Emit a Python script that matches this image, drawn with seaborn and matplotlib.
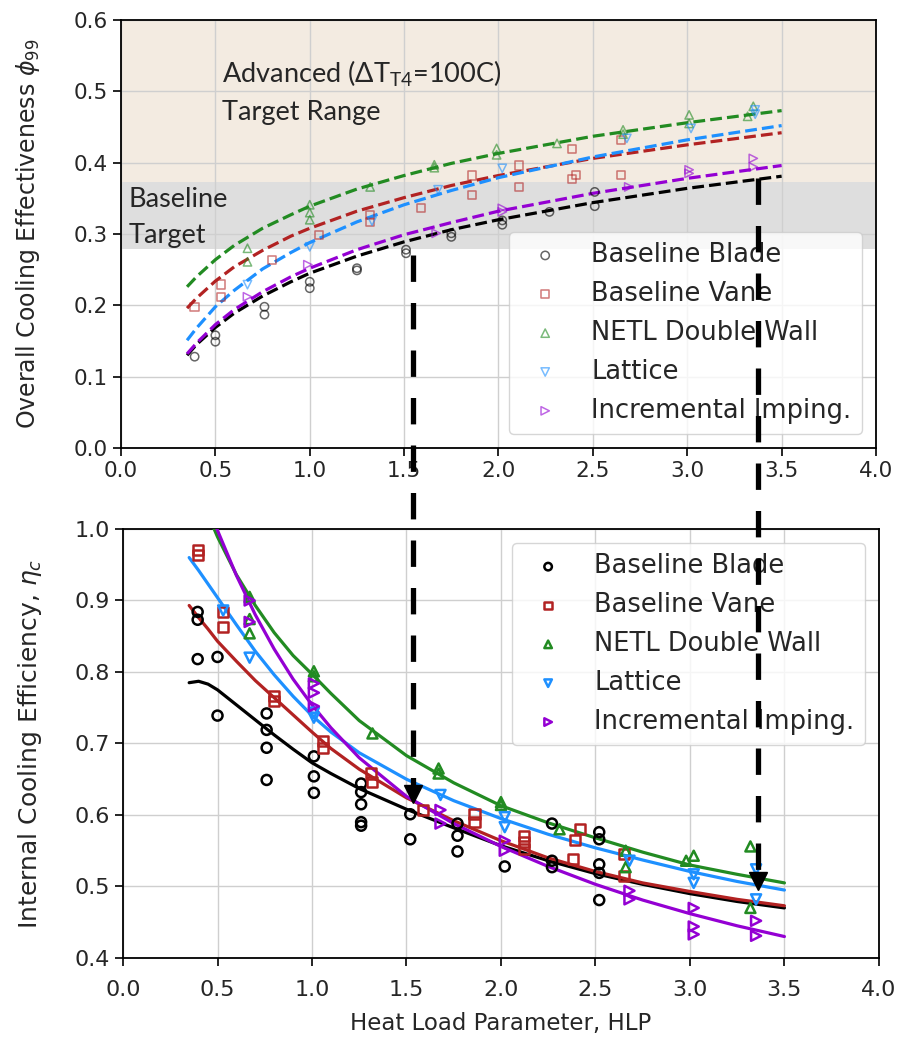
import numpy as np
import pandas as pd
import matplotlib
matplotlib.use("Agg")
import matplotlib.pyplot as plt
import seaborn as sns
from matplotlib.lines import Line2D

# ---------------- data ----------------
names = ["Baseline Blade", "Baseline Vane", "NETL Double Wall", "Lattice", "Incremental Imping."]
colors = ["#000000", "#b22222", "#228b22", "#1e90ff", "#9400d3"]
markers = ["o", "s", "^", "v", ">"]

# top panel: overall cooling effectiveness phi_99 (scatter)
phi_blade_x = [0.39, 0.50, 0.50, 0.76, 0.76, 1.00, 1.00, 1.25, 1.25, 1.51, 1.51, 1.75, 1.75, 2.02, 2.02, 2.27, 2.51, 2.51]
phi_blade_y = [0.128, 0.158, 0.149, 0.198, 0.187, 0.233, 0.224, 0.252, 0.249, 0.278, 0.273, 0.301, 0.296, 0.319, 0.313, 0.331, 0.359, 0.339]
phi_vane_x = [0.39, 0.53, 0.53, 0.80, 1.05, 1.32, 1.32, 1.59, 1.86, 1.86, 2.11, 2.11, 2.39, 2.39, 2.41, 2.65, 2.65]
phi_vane_y = [0.198, 0.229, 0.212, 0.264, 0.299, 0.327, 0.317, 0.336, 0.382, 0.355, 0.396, 0.366, 0.419, 0.377, 0.383, 0.432, 0.383]
phi_netl_x = [0.67, 0.67, 1.00, 1.00, 1.00, 1.32, 1.66, 1.66, 1.99, 1.99, 2.31, 2.66, 2.66, 3.01, 3.01, 3.35, 3.32]
phi_netl_y = [0.280, 0.261, 0.341, 0.330, 0.320, 0.366, 0.397, 0.393, 0.420, 0.411, 0.427, 0.446, 0.440, 0.467, 0.455, 0.479, 0.465]
phi_latt_x = [0.67, 1.00, 1.33, 1.68, 2.02, 2.68, 3.02, 3.36, 3.36]
phi_latt_y = [0.229, 0.282, 0.318, 0.362, 0.392, 0.434, 0.448, 0.474, 0.468]
phi_imp_x = [0.67, 0.99, 1.67, 2.02, 2.02, 2.69, 3.01, 3.01, 3.35, 3.35]
phi_imp_y = [0.212, 0.257, 0.301, 0.331, 0.336, 0.366, 0.390, 0.385, 0.406, 0.394]

# top panel: fitted trends (dashed)
phi_fit_x = [0.35, 0.40, 0.50, 0.60, 0.75, 0.90, 1.00, 1.25, 1.50, 1.75, 2.00, 2.50, 3.00, 3.50]
phi_fit_blade = [0.130, 0.145, 0.169, 0.189, 0.213, 0.233, 0.245, 0.269, 0.289, 0.306, 0.320, 0.344, 0.364, 0.381]
phi_fit_vane = [0.196, 0.210, 0.234, 0.254, 0.277, 0.297, 0.308, 0.332, 0.351, 0.368, 0.382, 0.406, 0.425, 0.442]
phi_fit_netl = [0.226, 0.240, 0.264, 0.284, 0.308, 0.327, 0.339, 0.363, 0.382, 0.399, 0.413, 0.437, 0.456, 0.473]
phi_fit_latt = [0.151, 0.168, 0.198, 0.221, 0.251, 0.274, 0.288, 0.317, 0.341, 0.361, 0.379, 0.408, 0.432, 0.452]
phi_fit_imp = [0.132, 0.147, 0.173, 0.194, 0.219, 0.240, 0.252, 0.278, 0.299, 0.316, 0.332, 0.357, 0.378, 0.396]

# bottom panel: internal cooling efficiency eta_c (scatter)
eta_blade_x = [0.395, 0.395, 0.395, 0.50, 0.50, 0.76, 0.76, 0.76, 0.76, 1.01, 1.01, 1.01, 1.26, 1.26, 1.26, 1.26, 1.26,
               1.52, 1.52, 1.77, 1.77, 1.77, 2.02, 2.27, 2.27, 2.27, 2.52, 2.52, 2.52, 2.52, 2.52]
eta_blade_y = [0.884, 0.873, 0.818, 0.821, 0.739, 0.742, 0.719, 0.694, 0.649, 0.682, 0.654, 0.631, 0.644, 0.632, 0.615, 0.590, 0.585,
               0.601, 0.566, 0.588, 0.571, 0.549, 0.528, 0.588, 0.536, 0.527, 0.576, 0.566, 0.531, 0.519, 0.481]
eta_vane_x = [0.395, 0.395, 0.53, 0.53, 0.80, 0.80, 1.06, 1.06, 1.31, 1.32, 1.59, 1.86, 1.86, 2.12, 2.12, 2.12, 2.42, 2.39, 2.38, 2.65, 2.65]
eta_vane_y = [0.970, 0.964, 0.884, 0.863, 0.766, 0.759, 0.703, 0.693, 0.658, 0.646, 0.607, 0.601, 0.590, 0.571, 0.562, 0.552, 0.580, 0.565, 0.539, 0.545, 0.515]
eta_netl_x = [0.67, 0.67, 0.67, 1.01, 1.01, 1.32, 1.67, 1.67, 2.00, 2.00, 2.31, 2.66, 2.66, 3.02, 2.98, 3.32, 3.32]
eta_netl_y = [0.905, 0.874, 0.854, 0.801, 0.794, 0.714, 0.665, 0.658, 0.618, 0.614, 0.580, 0.550, 0.527, 0.543, 0.536, 0.556, 0.470]
eta_latt_x = [0.53, 0.67, 1.01, 1.01, 1.68, 2.02, 2.02, 2.68, 3.02, 3.02, 3.35, 3.35]
eta_latt_y = [0.886, 0.820, 0.743, 0.736, 0.628, 0.597, 0.583, 0.536, 0.517, 0.505, 0.524, 0.482]
eta_imp_x = [0.67, 0.67, 1.01, 1.01, 1.01, 1.68, 1.68, 2.02, 2.02, 2.68, 2.68, 3.02, 3.02, 3.02, 3.35, 3.35]
eta_imp_y = [0.900, 0.870, 0.784, 0.771, 0.752, 0.607, 0.588, 0.564, 0.550, 0.494, 0.482, 0.470, 0.444, 0.433, 0.452, 0.431]

# bottom panel: fitted trends (solid)
eta_fit_x = [0.35, 0.40, 0.45, 0.50, 0.60, 0.70, 0.80, 0.90, 1.00, 1.10, 1.25, 1.50, 1.75, 2.00, 2.25, 2.50, 2.75, 3.00, 3.25, 3.50]
eta_fit_blade = [0.785, 0.787, 0.783, 0.775, 0.754, 0.733, 0.712, 0.692, 0.673, 0.658, 0.637, 0.608, 0.582, 0.557, 0.536, 0.518, 0.503, 0.490, 0.479, 0.470]
eta_fit_vane = [0.893, 0.876, 0.860, 0.843, 0.815, 0.788, 0.764, 0.740, 0.716, 0.693, 0.664, 0.624, 0.592, 0.564, 0.540, 0.521, 0.505, 0.493, 0.482, 0.473]
eta_fit_netl = [1.085, 1.052, 1.020, 0.989, 0.936, 0.893, 0.855, 0.823, 0.797, 0.770, 0.732, 0.683, 0.645, 0.613, 0.589, 0.568, 0.548, 0.530, 0.517, 0.505]
eta_fit_latt = [0.960, 0.942, 0.923, 0.904, 0.866, 0.829, 0.796, 0.766, 0.739, 0.716, 0.687, 0.650, 0.620, 0.595, 0.573, 0.554, 0.537, 0.521, 0.507, 0.495]
eta_fit_imp = [1.115, 1.075, 1.036, 0.998, 0.935, 0.880, 0.832, 0.790, 0.754, 0.722, 0.680, 0.626, 0.588, 0.556, 0.528, 0.503, 0.481, 0.462, 0.445, 0.430]

phi_pts = [(phi_blade_x, phi_blade_y), (phi_vane_x, phi_vane_y), (phi_netl_x, phi_netl_y),
           (phi_latt_x, phi_latt_y), (phi_imp_x, phi_imp_y)]
phi_fits = [phi_fit_blade, phi_fit_vane, phi_fit_netl, phi_fit_latt, phi_fit_imp]
eta_pts = [(eta_blade_x, eta_blade_y), (eta_vane_x, eta_vane_y), (eta_netl_x, eta_netl_y),
           (eta_latt_x, eta_latt_y), (eta_imp_x, eta_imp_y)]
eta_fits = [eta_fit_blade, eta_fit_vane, eta_fit_netl, eta_fit_latt, eta_fit_imp]

# target bands (top panel) and arrow positions
baseline_band = (0.279, 0.373)
advanced_band = (0.373, 0.6)
arrow_x = [1.534, 3.36]
arrow_top_y = [0.270, 0.379]
arrow_tip_y = [0.617, 0.495]

# ---------------- style ----------------
sns.set_style("ticks")
plt.rcParams["font.family"] = ["DejaVu Sans"]
ann_family = ["Lato", "DejaVu Sans"]
text_col = "#262626"

fig = plt.figure(figsize=(9.14, 10.37), dpi=100)
ax1 = fig.add_axes([0.1324, 0.568, 0.826, 0.4127])
ax2 = fig.add_axes([0.1346, 0.0762, 0.827, 0.4137])

for ax in (ax1, ax2):
    ax.set_axisbelow(True)
    ax.grid(True, color="#cfcfcf", lw=1.0)
    for s in ax.spines.values():
        s.set_color("black")
        s.set_linewidth(1.3)
    ax.tick_params(labelsize=15.5, length=6, width=1.2, color="black", labelcolor=text_col)
    ax.set_xlim(0, 4)
    ax.set_xticks(np.arange(0, 4.01, 0.5))
ax2.tick_params(labelsize=16)
ax2.tick_params(axis="x", pad=10)

legend_kw = dict(fontsize=18.5, handletextpad=0.8, borderaxespad=0.55, labelspacing=0.5, framealpha=0.8)

# ---------------- top panel ----------------
ax1.axhspan(*advanced_band, color="#f3ebe1", zorder=0, lw=0)
ax1.axhspan(*baseline_band, color="#dedede", zorder=0, lw=0)
for (px, py), fit, name, c, m in zip(phi_pts, phi_fits, names, colors, markers):
    sns.lineplot(x=phi_fit_x, y=fit, color=c, linestyle="--", lw=2.3, ax=ax1, zorder=3)
    sns.scatterplot(x=px, y=py, marker=m, s=36, facecolor="none", edgecolor=c, linewidth=1.1,
                    alpha=0.6, ax=ax1, label=name, zorder=4)
ax1.set_ylim(0, 0.6)
ax1.set_yticks(np.arange(0, 0.61, 0.1))
ax1.set_ylabel("Overall Cooling Effectiveness $\\phi_{99}$", fontsize=17, color=text_col)
ax1.yaxis.set_label_coords(-0.105, 0.5)
ax1.set_xlabel("")
ax1.legend(loc="lower right", **legend_kw)

ax1.text(0.535, 0.512, "Advanced (ΔT$\\mathregular{_{T4}}$=100C)", fontsize=19.5, family=ann_family,
         va="baseline", ha="left", zorder=6)
ax1.text(0.535, 0.460, "Target Range", fontsize=19.5, family=ann_family, va="baseline", ha="left", zorder=6)
ax1.text(0.042, 0.338, "Baseline", fontsize=19.5, family=ann_family, va="baseline", ha="left", zorder=6)
ax1.text(0.042, 0.2875, "Target", fontsize=19.5, family=ann_family, va="baseline", ha="left", zorder=6)

# ---------------- bottom panel ----------------
for (px, py), fit, name, c, m in zip(eta_pts, eta_fits, names, colors, markers):
    sns.lineplot(x=eta_fit_x, y=fit, color=c, lw=2.3, ax=ax2, zorder=3)
    sns.scatterplot(x=px, y=py, marker=m, s=52, facecolor="none", edgecolor=c, linewidth=1.8,
                    ax=ax2, label=name, zorder=4)
ax2.set_ylim(0.4, 1.0)
ax2.set_yticks(np.arange(0.4, 1.01, 0.1))
ax2.set_ylabel("Internal Cooling Efficiency, $\\eta_c$", fontsize=18, color=text_col)
ax2.yaxis.set_label_coords(-0.105, 0.5)
ax2.set_xlabel("Heat Load Parameter, HLP", fontsize=16.5, color=text_col)
ax2.xaxis.set_label_coords(0.5, -0.125)
ax2.legend(loc="upper right", markerscale=0.75, **legend_kw)

# ---------------- connecting arrows ----------------
to_fig = fig.transFigure.inverted()
head_px = 18.0
for xa, yt, yb in zip(arrow_x, arrow_top_y, arrow_tip_y):
    _, y_top_disp = ax1.transData.transform((xa, yt))
    x_bot_disp, y_bot_disp = ax2.transData.transform((xa, yb))
    p0 = to_fig.transform((x_bot_disp, y_top_disp))
    p1 = to_fig.transform((x_bot_disp, y_bot_disp + head_px))
    pm = to_fig.transform((x_bot_disp, y_bot_disp + head_px / 2))
    fig.add_artist(Line2D([p0[0], p1[0]], [p0[1], p1[1]], transform=fig.transFigure, color="black",
                          lw=3.8, linestyle=(0, (5.0, 4.0)), solid_capstyle="butt", dash_capstyle="butt",
                          zorder=10))
    fig.add_artist(Line2D([pm[0]], [pm[1]], transform=fig.transFigure, marker="v", ms=13.5,
                          color="black", lw=0, zorder=11))

fig.savefig("out.png", dpi=100)
